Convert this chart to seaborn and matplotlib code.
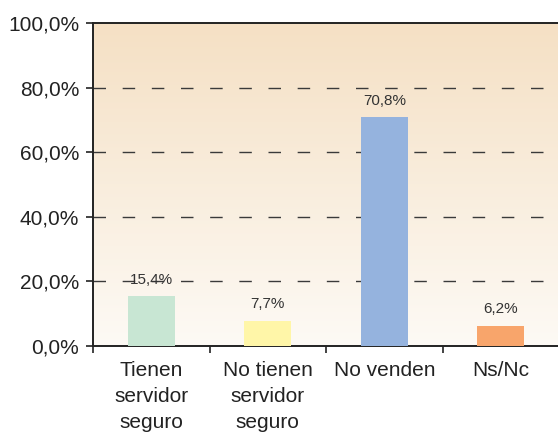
import matplotlib
matplotlib.use("Agg")
import matplotlib.pyplot as plt
import numpy as np
import pandas as pd
import seaborn as sns
from matplotlib.colors import LinearSegmentedColormap

categories = ["Tienen\nservidor\nseguro", "No tienen\nservidor\nseguro", "No venden", "Ns/Nc"]
values = [15.4, 7.7, 70.8, 6.2]
colors = ["#C8E6D3", "#FFF6A8", "#95B3DE", "#F8A56B"]
yticks = [0, 20, 40, 60, 80, 100]

sns.set_theme(style="white")
plt.rcParams["font.family"] = ["Liberation Sans", "DejaVu Sans"]
plt.rcParams["lines.scale_dashes"] = False

fig = plt.figure(figsize=(5.58, 4.36), dpi=100)
ax = fig.add_axes([93 / 558, 1 - 346 / 436, (559 - 93) / 558, (346 - 23) / 436])

# warm vertical gradient behind the bars
grad = LinearSegmentedColormap.from_list("warm", ["#FDFAF5", "#F5E0C4"])
ax.imshow(np.linspace(0, 1, 256).reshape(-1, 1), cmap=grad, origin="lower",
          aspect="auto", extent=[0, 1, 0, 1], transform=ax.transAxes, zorder=0)

df = pd.DataFrame({"cat": categories, "val": values})
sns.barplot(data=df, x="cat", y="val", hue="cat", palette=colors, width=0.4,
            legend=False, ax=ax, zorder=3, saturation=1, linewidth=0)

for y in yticks[1:-1]:
    ax.axhline(y, color="#3a3a3a", lw=1.0, dashes=(9, 12), zorder=2)

for i, v in enumerate(values):
    ax.annotate(f"{v:.1f}%".replace(".", ","), (i, v), xytext=(0, 7),
                textcoords="offset points", ha="center", va="bottom",
                fontsize=11, color="#333333", zorder=4)

ax.set_xlim(-0.5, 3.5)
ax.set_ylim(0, 100)
ax.set_yticks(yticks)
ax.set_yticklabels([f"{t:.1f}%".replace(".", ",") for t in yticks], fontsize=15, color="#222222")
ax.set_xticks(range(len(categories)))
ax.set_xticklabels(categories, fontsize=15, color="#222222", linespacing=1.45)
ax.set_xticks([-0.5, 0.5, 1.5, 2.5, 3.5], minor=True)
ax.tick_params(axis="x", which="major", length=0, pad=11)
ax.tick_params(axis="x", which="minor", length=5, width=1.2, color="#222222", bottom=True)
ax.tick_params(axis="y", length=5, width=1.2, color="#222222", left=True, pad=5)
ax.set_xlabel("")
ax.set_ylabel("")

for side in ["left", "bottom", "top"]:
    ax.spines[side].set_visible(True)
    ax.spines[side].set_color("#222222")
    ax.spines[side].set_linewidth(1.4)
ax.spines["right"].set_visible(False)

fig.savefig("out.png", dpi=100)
